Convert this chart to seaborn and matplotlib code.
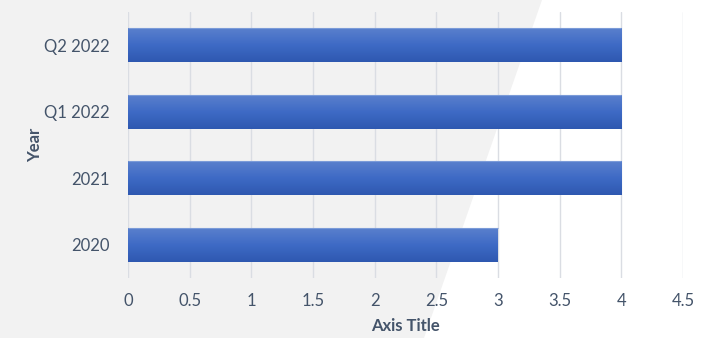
import matplotlib
matplotlib.use("Agg")
import matplotlib.pyplot as plt
import seaborn as sns
import numpy as np
import pandas as pd
from matplotlib.patches import Polygon
from matplotlib.colors import LinearSegmentedColormap

categories = ["Q2 2022", "Q1 2022", "2021", "2020"]
values = [4, 4, 4, 3]
x_ticks = [0, 0.5, 1, 1.5, 2, 2.5, 3, 3.5, 4, 4.5]

sns.set_theme(style="white")
plt.rcParams["font.family"] = ["Lato", "DejaVu Sans"]

df = pd.DataFrame({"Year": categories, "Value": values})

fig = plt.figure(figsize=(7.04, 3.38), dpi=100, facecolor="white")
# background axes with grey shape
bg = fig.add_axes([0, 0, 1, 1], zorder=-10)
bg.set_xlim(0, 1)
bg.set_ylim(0, 1)
bg.axis("off")
bg.add_patch(Polygon([(0, 0), (0, 1), (542 / 704, 1), (424 / 704, 0)], closed=True,
                     facecolor="#f2f2f2", edgecolor="none"))

ax = fig.add_axes([128 / 704, 60 / 338, (683 - 128) / 704, (326 - 60) / 338], zorder=1)
ax.set_facecolor("none")

sns.barplot(data=df, x="Value", y="Year", orient="h", color="#3a66c2",
            width=0.51, ax=ax, zorder=3)

cmap = LinearSegmentedColormap.from_list("g", ["#5a80cd", "#3e6ac5", "#2e58b0"])
grad = np.linspace(0, 1, 256).reshape(-1, 1)
for p in ax.patches:
    x0, y0 = p.get_x(), p.get_y()
    w, h = p.get_width(), p.get_height()
    p.set_facecolor("none")
    p.set_edgecolor("none")
    im = ax.imshow(grad, aspect="auto", cmap=cmap, extent=[x0, x0 + w, y0 + h, y0],
                   origin="upper", zorder=3)
    im.set_clip_path(p)
    ax.plot([x0, x0 + w], [y0, y0], color="#7b9bd8", lw=0.8, zorder=4, solid_capstyle="butt")

ax.set_xlim(0, 4.5)
ax.set_ylim(3.5, -0.5)
ax.set_xticks(x_ticks)
ax.set_xticklabels([f"{t:g}" for t in x_ticks])
ax.xaxis.grid(True, color="#dadde3", lw=1.0, zorder=0)
ax.yaxis.grid(False)
for s in ax.spines.values():
    s.set_visible(False)

txt = "#44546a"
ax.tick_params(axis="x", length=0, pad=11, labelsize=12, labelcolor=txt)
ax.tick_params(axis="y", length=0, pad=13, labelsize=12, labelcolor=txt)
ax.set_xlabel("Axis Title", fontsize=12, fontweight="bold", color=txt, labelpad=6)
ax.set_ylabel("Year", fontsize=12, fontweight="bold", color=txt, labelpad=1)

fig.savefig("out.png", dpi=100, facecolor="white")
